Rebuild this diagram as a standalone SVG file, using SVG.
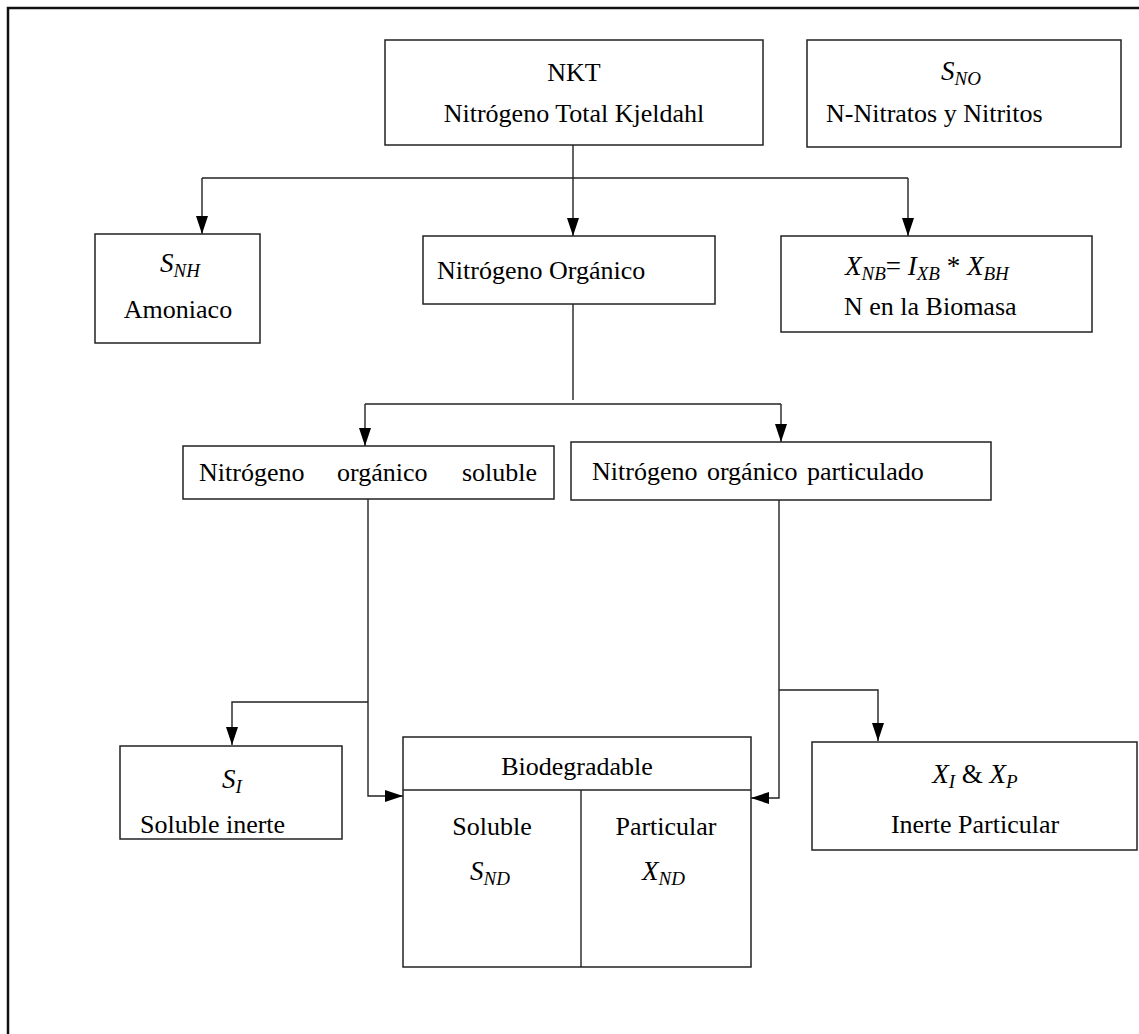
<svg xmlns="http://www.w3.org/2000/svg" width="1139" height="1034" viewBox="0 0 1139 1034">
<style>
.box{fill:#fff;stroke:#222;stroke-width:1.5}
.t{font-family:"Liberation Serif","Times New Roman",serif;font-size:26px;fill:#000}
.m{font-family:"Liberation Serif","Times New Roman",serif;font-size:27px;font-style:italic;fill:#000}
.sub{font-size:19px}
.c{text-anchor:middle}
.ln{fill:none;stroke:#222;stroke-width:1.4}
</style>
<defs>
<marker id="ahd" markerUnits="userSpaceOnUse" markerWidth="18" markerHeight="12" refX="18" refY="6" orient="auto" viewBox="0 0 18 12">
<path d="M0,0 L18,6 L0,12 Z" fill="#000"/>
</marker>
</defs>
<rect x="8" y="8" width="1140" height="1040" fill="#fff" stroke="#111" stroke-width="2.5"/>

<g id="connectors">
<line class="ln" x1="573" y1="145" x2="573" y2="236" marker-end="url(#ahd)"/>
<line class="ln" x1="202" y1="178" x2="908" y2="178"/>
<line class="ln" x1="202" y1="178" x2="202" y2="234" marker-end="url(#ahd)"/>
<line class="ln" x1="908" y1="178" x2="908" y2="236" marker-end="url(#ahd)"/>
<line class="ln" x1="573" y1="304" x2="573" y2="400"/>
<line class="ln" x1="365" y1="404" x2="781" y2="404"/>
<line class="ln" x1="365" y1="404" x2="365" y2="446" marker-end="url(#ahd)"/>
<line class="ln" x1="781" y1="404" x2="781" y2="442" marker-end="url(#ahd)"/>
<polyline class="ln" points="368,498 368,796 403,796" marker-end="url(#ahd)"/>
<polyline class="ln" points="368,702 232,702 232,745" marker-end="url(#ahd)"/>
<polyline class="ln" points="779,500 779,798 751,798" marker-end="url(#ahd)"/>
<polyline class="ln" points="779,690 878,690 878,741" marker-end="url(#ahd)"/>
</g>

<g id="nkt">
<rect class="box" x="385" y="40" width="378" height="105"/>
<text class="t c" x="574" y="81">NKT</text>
<text class="t c" x="574" y="122">Nitrógeno Total Kjeldahl</text>
</g>

<g id="sno">
<rect class="box" x="807" y="40" width="314" height="107"/>
<text class="m" x="941" y="80">S<tspan class="sub" dy="5">NO</tspan></text>
<text class="t" x="826" y="122">N-Nitratos y Nitritos</text>
</g>

<g id="snh">
<rect class="box" x="95" y="234" width="165" height="109"/>
<text class="m" x="160" y="272">S<tspan class="sub" dy="5">NH</tspan></text>
<text class="t c" x="178" y="318">Amoniaco</text>
</g>

<g id="norg">
<rect class="box" x="423" y="236" width="292" height="68"/>
<text class="t" x="437" y="279">Nitrógeno Orgánico</text>
</g>

<g id="xnb">
<rect class="box" x="781" y="236" width="311" height="96"/>
<text class="m" x="845" y="275">X<tspan class="sub" dy="5">NB</tspan><tspan dy="-5" font-style="normal">= </tspan>I<tspan class="sub" dy="5">XB</tspan><tspan dy="-5" font-style="normal"> * </tspan>X<tspan class="sub" dy="5">BH</tspan></text>
<text class="t" x="844" y="315">N en la Biomasa</text>
</g>

<g id="nsol">
<rect class="box" x="183" y="446" width="371" height="53"/>
<text class="t" x="199" y="481">Nitrógeno</text>
<text class="t" x="337" y="481">orgánico</text>
<text class="t" x="462" y="481">soluble</text>
</g>

<g id="npart">
<rect class="box" x="571" y="442" width="420" height="58"/>
<text class="t" x="592" y="480" word-spacing="3">Nitrógeno orgánico particulado</text>
</g>

<g id="si">
<rect class="box" x="120" y="746" width="222" height="93"/>
<text class="m" x="222" y="788">S<tspan class="sub" dy="5">I</tspan></text>
<text class="t" x="140" y="833">Soluble inerte</text>
</g>

<g id="biodeg">
<rect class="box" x="403" y="737" width="348" height="230"/>
<line class="ln" x1="403" y1="790" x2="751" y2="790"/>
<line class="ln" x1="581" y1="790" x2="581" y2="967"/>
<text class="t c" x="577" y="775">Biodegradable</text>
<text class="t c" x="492" y="835">Soluble</text>
<text class="t c" x="666" y="835">Particular</text>
<text class="m" x="470" y="880">S<tspan class="sub" dy="5">ND</tspan></text>
<text class="m" x="642" y="880">X<tspan class="sub" dy="5">ND</tspan></text>
</g>

<g id="xi">
<rect class="box" x="812" y="742" width="325" height="108"/>
<text class="m c" x="975" y="783">X<tspan class="sub" dy="5">I</tspan><tspan dy="-5" font-style="normal"> &amp; </tspan>X<tspan class="sub" dy="5">P</tspan></text>
<text class="t c" x="975" y="833">Inerte Particular</text>
</g>
</svg>
